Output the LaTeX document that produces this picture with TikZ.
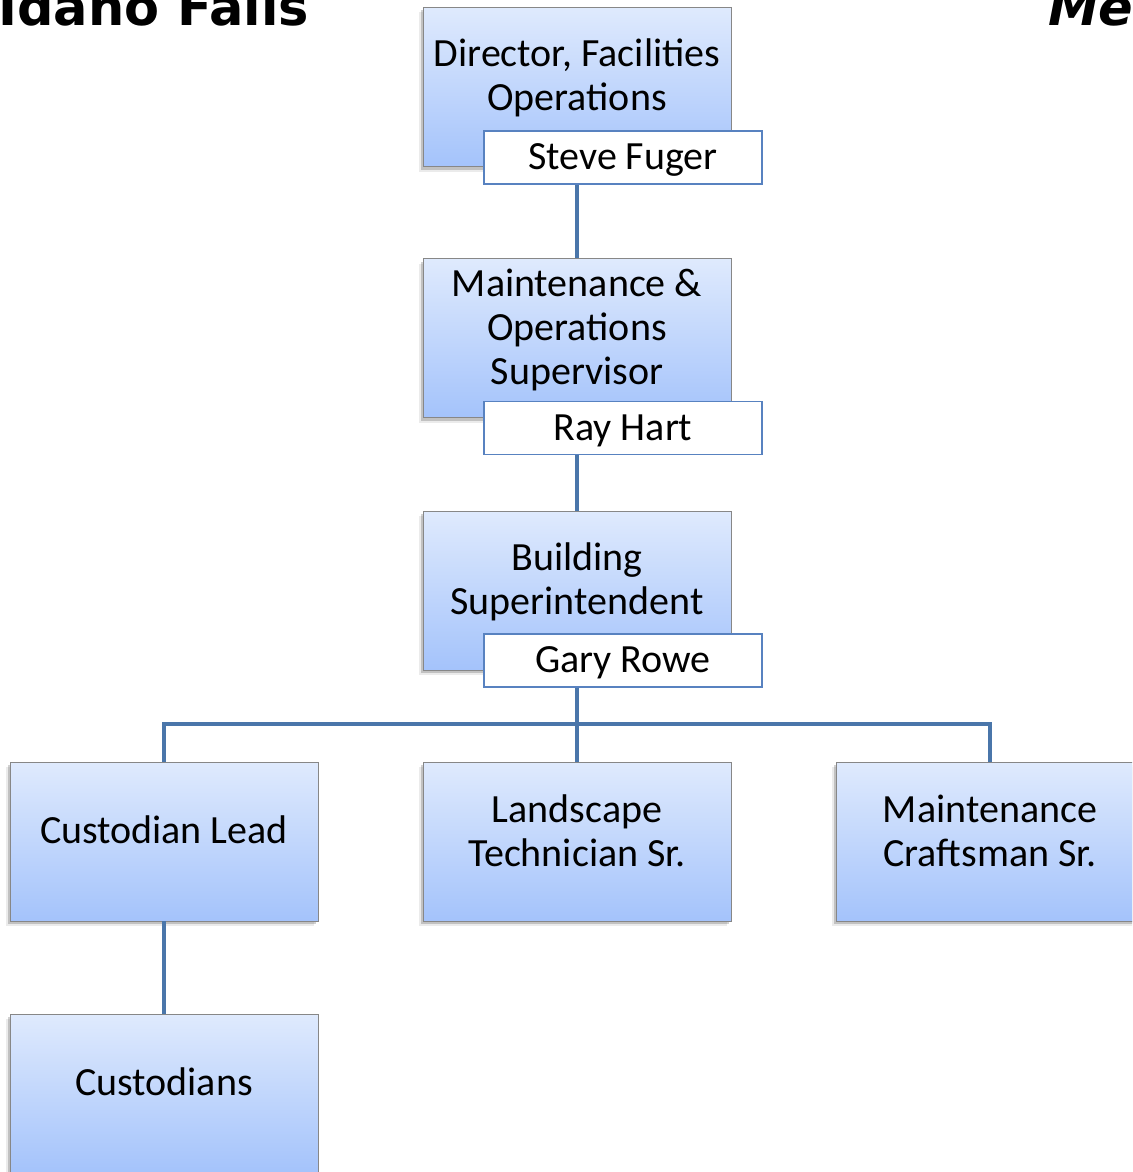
\documentclass[tikz,border=0pt]{standalone}
\usepackage{fontspec}
\setmainfont{Carlito}
\newfontfamily\titlefont{DejaVu Sans}
\usetikzlibrary{shadows}
\definecolor{boxtop}{RGB}{223,234,253}
\definecolor{boxbot}{RGB}{164,195,251}
\definecolor{boxline}{RGB}{135,135,135}
\definecolor{namebd}{RGB}{88,130,192}
\definecolor{connc}{RGB}{74,118,170}
\begin{document}
\begin{tikzpicture}[x=1pt,y=-1pt,
  rolebox/.style={draw=boxline, line width=0.8pt, top color=boxtop, bottom color=boxbot,
    minimum width=308pt, minimum height=159pt, inner sep=0pt,
    drop shadow={shadow xshift=-4pt, shadow yshift=-5pt, opacity=0.08, fill=black},
    drop shadow={shadow xshift=-2pt, shadow yshift=-3pt, opacity=0.18, fill=black}},
  namebox/.style={draw=namebd, line width=1.5pt, fill=white, minimum width=278pt,
    minimum height=53pt, inner sep=0pt},
  lbl/.style={align=center, font=\fontsize{40}{44}\selectfont, inner sep=0pt},
  titlestyle/.style={inner sep=0pt, font=\titlefont\bfseries\fontsize{51}{51}\selectfont},
  connline/.style={draw=connc, line width=4pt}]
\useasboundingbox (0,0) rectangle (1132,1172);
\clip (0,0) rectangle (1132,1172);

% titles
\node[titlestyle, anchor=base east] (titleL) at (309,26) {Idaho Falls};
\node[titlestyle, anchor=base west, font=\titlefont\bfseries\itshape\fontsize{51}{51}\selectfont] (titleR) at (1048,26) {Me};

% boxes
\node[rolebox] (b1) at (577,87) {};
\node[lbl] (t1) at (577,78) {Director, Facilities\\Operations};
\node[namebox] (n1) at (623,157.5) {};
\node[lbl] (m1) at (623,160) {Steve Fuger};

\node[rolebox] (b2) at (577,338) {};
\node[lbl] (t2) at (577,330) {Maintenance \&\\Operations\\Supervisor};
\node[namebox] (n2) at (623,428) {};
\node[lbl] (m2) at (623,430.5) {Ray Hart};

\node[rolebox] (b3) at (577,590.5) {};
\node[lbl] (t3) at (577,582) {Building\\Superintendent};
\node[namebox] (n3) at (623,660.5) {};
\node[lbl] (m3) at (623,663) {Gary Rowe};

\node[rolebox] (bA) at (164,841.5) {};
\node[lbl] (tA) at (164,830) {Custodian Lead};
\node[rolebox] (bB) at (577,841.5) {};
\node[lbl] (tB) at (577,831) {Landscape\\Technician Sr.};
\node[rolebox] (bC) at (990,841.5) {};
\node[lbl] (tC) at (990,831) {Maintenance\\Craftsman Sr.};
\node[rolebox] (bD) at (164,1093.5) {};
\node[lbl] (tD) at (164,1082) {Custodians};

\coordinate (bus) at (577,724);

% connectors
\draw[connline] (n1.south -| b2.north) -- (b2.north);
\draw[connline] (n2.south -| b3.north) -- (b3.north);
\draw[connline] (n3.south -| bB.north) -- (bB.north);
\draw[connline] (bA.north) -- (bA.north |- bus) -- (bC.north |- bus) -- (bC.north);
\draw[connline] (bA.south) -- (bD.north);
\end{tikzpicture}
\end{document}
